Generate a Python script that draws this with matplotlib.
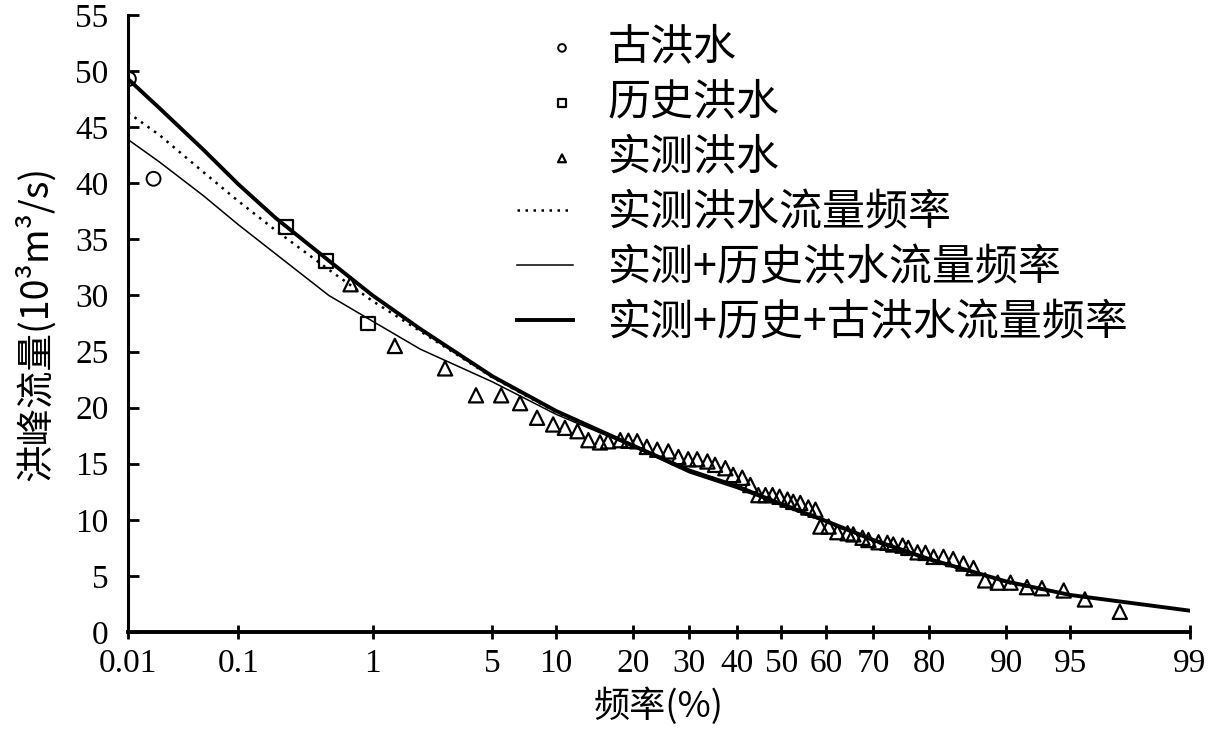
import math
import numpy as np
import matplotlib
matplotlib.use("Agg")
import matplotlib.pyplot as plt
from matplotlib.legend_handler import HandlerPathCollection

plt.rcParams["font.family"] = ["Noto Sans CJK SC", "DejaVu Sans"]

# 古洪水 (paleo floods)
paleo_freq = [0.0102, 0.0176]
paleo_q = [49.3, 40.4]

# 历史洪水 (historical floods)
hist_freq = [0.24, 0.48, 0.93]
hist_q = [36.1, 33.1, 27.5]

# 实测洪水 (observed floods)
obs_freq = [0.71, 1.39, 2.78, 4.11, 5.54, 6.85, 8.22, 9.70, 10.9, 12.3,
            13.6, 15.1, 16.2, 17.96, 19.2, 20.6, 22.2, 24.0, 26.0, 27.9,
            29.8, 31.6, 33.7, 35.3, 37.5, 39.2, 41.2, 43.0, 44.8, 46.4,
            48.0, 49.6, 51.4, 52.7, 54.3, 56.1, 57.7, 58.8, 60.6, 62.5,
            64.7, 65.9, 67.8, 69.0, 71.0, 72.7, 73.8, 75.5, 76.5, 78.1,
            79.4, 80.7, 82.2, 83.6, 85.0, 86.3, 87.7, 89.1, 90.4, 91.9,
            93.1, 94.6, 95.8, 97.3]
obs_q = [31.0, 25.5, 23.5, 21.1, 21.1, 20.4, 19.1, 18.5, 18.2, 17.9,
         17.1, 16.9, 17.0, 17.1, 17.05, 17.0, 16.5, 16.25, 16.1, 15.6,
         15.4, 15.4, 15.2, 14.9, 14.6, 14.0, 13.75, 13.1, 12.2, 12.2,
         12.2, 12.05, 11.8, 11.6, 11.5, 11.1, 10.9, 9.4, 9.4, 8.9,
         8.8, 8.7, 8.4, 8.2, 8.0, 7.95, 7.8, 7.7, 7.5, 7.1,
         7.05, 6.7, 6.7, 6.5, 6.1, 5.7, 4.6, 4.4, 4.4, 4.0,
         3.9, 3.7, 2.9, 1.8]

# fitted frequency curves
curve_freq = [0.01, 0.02, 0.05, 0.1, 0.2, 0.5, 1, 2, 5, 10,
              20, 30, 40, 50, 60, 70, 80, 90, 95, 99]
q_obs_fit = [46.3, 44.3, 41.0, 38.4, 35.8, 32.3, 29.5, 26.8, 22.7, 19.6,
             16.6, 14.4, 12.9, 11.3, 9.8, 8.1, 6.4, 4.4, 3.3, 1.9]
q_hist_fit = [43.9, 41.9, 38.9, 36.3, 33.7, 30.0, 27.7, 25.2, 22.3, 19.4,
              16.5, 14.2, 12.8, 11.3, 9.8, 8.1, 6.4, 4.5, 3.3, 1.9]
q_all_fit = [49.3, 46.7, 43.0, 39.9, 36.9, 33.1, 30.0, 27.0, 22.8, 19.7,
             16.6, 14.4, 13.0, 11.4, 9.9, 8.2, 6.5, 4.5, 3.3, 1.9]

x_ticks = [0.01, 0.1, 1, 5, 10, 20, 30, 40, 50, 60, 70, 80, 90, 95, 99]
x_ticklabels = ["0.01", "0.1", "1", "5", "10", "20", "30", "40", "50",
                "60", "70", "80", "90", "95", "99"]


# normal probability scale (percent -> standard normal quantile)
A = [-3.969683028665376e+01, 2.209460984245205e+02, -2.759285104469687e+02,
     1.383577518672690e+02, -3.066479806614716e+01, 2.506628277459239e+00]
B = [-5.447609879822406e+01, 1.615858368580409e+02, -1.556989798598866e+02,
     6.680131188771972e+01, -1.328068155288572e+01]
C = [-7.784894002430293e-03, -3.223964580411365e-01, -2.400758277161838e+00,
     -2.549732539343734e+00, 4.374664141464968e+00, 2.938163982698783e+00]
D = [7.784695709041462e-03, 3.224671290700398e-01, 2.445134137142996e+00,
     3.754408661907416e+00]


def _tail(q):
    num = ((((C[0] * q + C[1]) * q + C[2]) * q + C[3]) * q + C[4]) * q + C[5]
    den = (((D[0] * q + D[1]) * q + D[2]) * q + D[3]) * q + 1
    return num / den


def ppf(pct):
    p = np.clip(np.asarray(pct, dtype=float) / 100.0, 1e-10, 1 - 1e-10)
    q = p - 0.5
    r = q * q
    mid = (((((A[0] * r + A[1]) * r + A[2]) * r + A[3]) * r + A[4]) * r + A[5]) * q / \
          (((((B[0] * r + B[1]) * r + B[2]) * r + B[3]) * r + B[4]) * r + 1)
    lo = _tail(np.sqrt(-2 * np.log(p)))
    hi = -_tail(np.sqrt(-2 * np.log(1 - p)))
    return np.where(p < 0.02425, lo, np.where(p > 1 - 0.02425, hi, mid))


_erf = np.vectorize(math.erf)


def cdf(z):
    z = np.asarray(z, dtype=float)
    return 50.0 * (1 + _erf(z / math.sqrt(2)))


class RightMarker(HandlerPathCollection):
    # put the legend marker near the right end of the handle, like the original
    def get_xdata(self, legend, xdescent, ydescent, width, height, fontsize):
        x = -xdescent + 0.8 * width
        return [x], [x]


fig = plt.figure(figsize=(12.08, 7.29), dpi=100)
ax = fig.add_axes([128 / 1208, 97 / 729, 1062 / 1208, 617 / 729])
ax.set_xscale("function", functions=(ppf, cdf))

ax.plot(curve_freq, q_obs_fit, color="black", lw=1.8, linestyle=(0, (1, 2.2)),
        label="实测洪水流量频率")
ax.plot(curve_freq, q_hist_fit, color="black", lw=1.1,
        label="实测+历史洪水流量频率")
ax.plot(curve_freq, q_all_fit, color="black", lw=2.8,
        label="实测+历史+古洪水流量频率")

ax.scatter(paleo_freq, paleo_q, marker="o", s=100, facecolors="none",
           edgecolors="black", linewidths=1.4, label="古洪水", zorder=5)
ax.scatter(hist_freq, hist_q, marker="s", s=100, facecolors="none",
           edgecolors="black", linewidths=1.6, label="历史洪水", zorder=5)
ax.scatter(obs_freq, obs_q, marker="^", s=105, facecolors="none",
           edgecolors="black", linewidths=1.6, label="实测洪水", zorder=5)

ax.set_xlim(0.01, 99)
ax.set_ylim(0, 55)
ax.set_xticks(x_ticks)
ax.set_xticklabels(x_ticklabels)
ax.set_yticks(range(0, 56, 5))
ax.minorticks_off()

for s in ["top", "right"]:
    ax.spines[s].set_visible(False)
ax.spines["left"].set_linewidth(2.2)
ax.spines["bottom"].set_linewidth(2.8)

ax.tick_params(axis="x", direction="inout", length=10, width=2, pad=7)
ax.tick_params(axis="y", direction="in", length=8, width=2, pad=14)
for lab in ax.get_xticklabels() + ax.get_yticklabels():
    lab.set_fontfamily("Liberation Serif")
    lab.set_fontsize(24)

ax.set_xlabel("频率(%)", fontsize=26, labelpad=6)
ax.set_ylabel("洪峰流量(10³m³/s)", fontsize=27, labelpad=14)

handles, labels = ax.get_legend_handles_labels()
order = [3, 4, 5, 0, 1, 2]
ax.legend([handles[i] for i in order], [labels[i] for i in order],
          loc="upper left", bbox_to_anchor=(500 / 1208, 1 - 8 / 729),
          bbox_transform=fig.transFigure, frameon=False, fontsize=31,
          markerscale=0.55, handlelength=1.3, handletextpad=0.8,
          labelspacing=0.26, borderaxespad=0,
          handler_map={type(handles[3]): RightMarker()})

fig.savefig("out.png", dpi=100)
